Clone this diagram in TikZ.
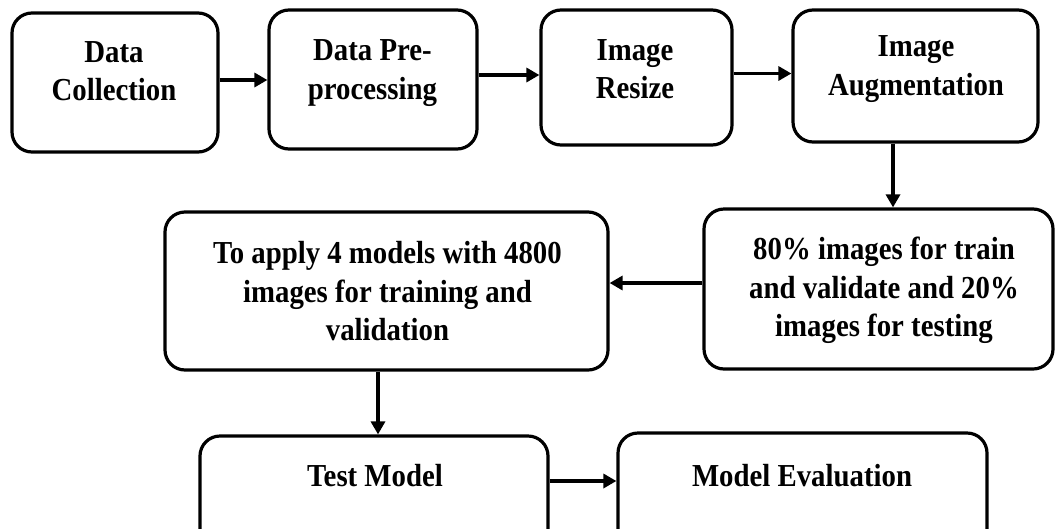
\documentclass[tikz,border=0pt]{standalone}
\usepackage{fontspec}
\setmainfont{Liberation Serif}
\newfontfamily\flowfont{Liberation Serif}[FakeStretch=0.9]
\usetikzlibrary{arrows.meta}
\begin{document}
\begin{tikzpicture}[x=1pt,y=-1pt,
  box/.style={draw=black, line width=3.2pt, rounded corners=20pt, fill=white, inner sep=0pt},
  lbl/.style={font=\flowfont\fontsize{32}{38.5}\selectfont\bfseries, align=center, inner sep=0pt, text=black},
  flow/.style={draw=black, line width=3.2pt, -{Triangle[length=13pt,width=14pt]}}]
\useasboundingbox (0,0) rectangle (1056,528);
\clip (0,0) rectangle (1056,528);
\fill[white] (0,0) rectangle (1056,528);

% first row
\node[box, minimum width=206pt, minimum height=139pt] (collect) at (115,82.5) {};
\node[lbl] (collectT) at (114,71) {Data\\Collection};
\node[box, minimum width=208pt, minimum height=139pt] (prep) at (373,79.5) {};
\node[lbl] (prepT) at (372.5,73) {Data Pre-\\processing};
\node[box, minimum width=191pt, minimum height=135pt] (resize) at (636.5,77.5) {};
\node[lbl] (resizeT) at (635,69) {Image\\Resize};
\node[box, minimum width=245pt, minimum height=132pt] (augment) at (915.5,76) {};
\node[lbl] (augmentT) at (916,69) {Image\\Augmentation};

% second row
\node[box, minimum width=443pt, minimum height=158pt] (train) at (386.5,291) {};
\node[lbl] (trainT) at (387.5,291.5) {To apply 4 models with 4800\\images for training and\\validation};
\node[box, minimum width=349pt, minimum height=160pt] (split) at (878.5,289) {};
\node[lbl] (splitT) at (884,290.5) {80\% images for train\\and validate and 20\%\\images for testing};

% third row (runs past the lower edge)
\node[box, minimum width=348pt, minimum height=112pt] (test) at (374,492) {};
\node[lbl] (testT) at (375,475.5) {Test Model};
\node[box, minimum width=369pt, minimum height=115pt] (eval) at (802.5,490.5) {};
\node[lbl] (evalT) at (802,475.5) {Model Evaluation};

% connectors
\draw[flow] (collect.east |- 0,80) -- (prep.west |- 0,80);
\draw[flow] (prep.east |- 0,75) -- (resize.west |- 0,75);
\draw[flow] (resize.east |- 0,73.5) -- (augment.west |- 0,73.5);
\draw[flow] (augment.south -| 893,0) -- (split.north -| 893,0);
\draw[flow] (split.west |- 0,283) -- (train.east |- 0,283);
\draw[flow] (train.south -| 378,0) -- (test.north -| 378,0);
\draw[flow] (test.east |- 0,481) -- (eval.west |- 0,481);
\end{tikzpicture}
\end{document}
